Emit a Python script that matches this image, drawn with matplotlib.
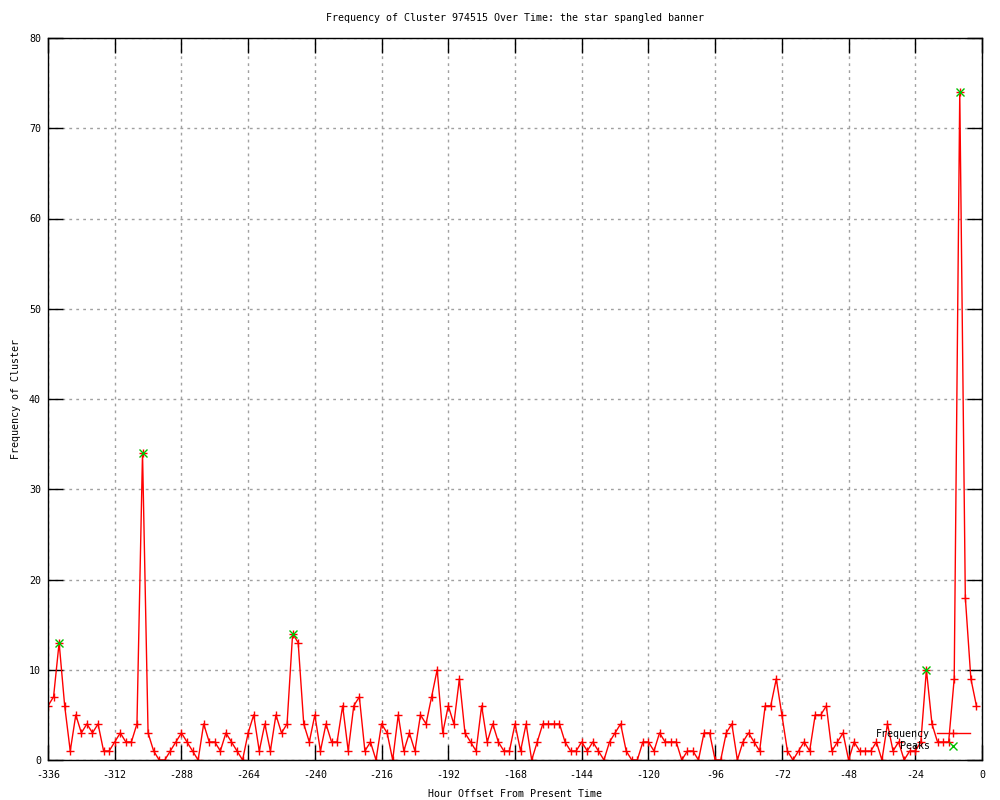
import matplotlib
matplotlib.use("Agg")
import matplotlib.pyplot as plt
import numpy as np

title = "Frequency of Cluster 974515 Over Time: the star spangled banner"
xlabel = "Hour Offset From Present Time"
ylabel = "Frequency of Cluster"

hours = list(range(-336, 0, 2))
freq = [6, 7, 13, 6, 1, 5, 3, 4, 3, 4, 1, 1, 2, 3, 2, 2, 4, 34, 3, 1, 0, 0, 1, 2, 3, 2, 1, 0, 4,
        2, 2, 1, 3, 2, 1, 0, 3, 5, 1, 4, 1, 5, 3, 4, 14, 13, 4, 2, 5, 1, 4, 2, 2, 6, 1, 6, 7, 1, 2,
        0, 4, 3, 0, 5, 1, 3, 1, 5, 4, 7, 10, 3, 6, 4, 9, 3, 2, 1, 6, 2, 4, 2, 1, 1, 4, 1, 4,
        0, 2, 4, 4, 4, 4, 2, 1, 1, 2, 1, 2, 1, 0, 2, 3, 4, 1, 0, 0, 2, 2, 1, 3, 2, 2, 2, 0, 1,
        1, 0, 3, 3, 0, 0, 3, 4, 0, 2, 3, 2, 1, 6, 6, 9, 5, 1, 0, 1, 2, 1, 5, 5, 6, 1, 2, 3, 0,
        2, 1, 1, 1, 2, 0, 4, 1, 2, 0, 1, 1, 2, 10, 4, 2, 2, 2, 9, 74, 18, 9, 6]
peak_hours = [-332, -302, -248, -20, -8]
peak_vals = [13, 34, 14, 10, 74]
xticks = list(range(-336, 1, 24))
yticks = list(range(0, 81, 10))

plt.rcParams['font.family'] = ['DejaVu Sans Mono']
plt.rcParams['axes.unicode_minus'] = False
fs = 7.2

fig = plt.figure(figsize=(10, 8), dpi=100)
ax = fig.add_axes([0.048, 0.05, 0.934, 0.9025])

ax.plot(hours, freq, color='red', lw=1, marker='+', ms=6, mew=1, label='Frequency')
ax.plot(peak_hours, peak_vals, ls='none', marker='x', color='#00c000', ms=5.5, mew=1, label='Peaks')

ax.set_xlim(-336, 0)
ax.set_ylim(0, 80)
ax.set_xticks(xticks)
ax.set_yticks(yticks)
ax.grid(True, color='#a0a0a0', linestyle=(0, (2, 3)), lw=1)
ax.set_axisbelow(True)
ax.tick_params(direction='in', length=11, width=1, top=True, right=True,
               labelsize=fs, colors='black')
ax.tick_params(axis='x', pad=7)
ax.tick_params(axis='y', pad=5)
for s in ax.spines.values():
    s.set_color('black')
    s.set_linewidth(1)

ax.set_title(title, fontsize=fs, pad=12)
ax.set_xlabel(xlabel, fontsize=fs, labelpad=7)
ax.set_ylabel(ylabel, fontsize=fs, labelpad=6)

ax.legend(loc='lower right', bbox_to_anchor=(0.987, 0.012), markerfirst=False,
          frameon=False, handlelength=3.3, fontsize=fs, labelspacing=0.25,
          borderpad=0, handletextpad=0.7, borderaxespad=0)

fig.savefig("out.png", dpi=100)
